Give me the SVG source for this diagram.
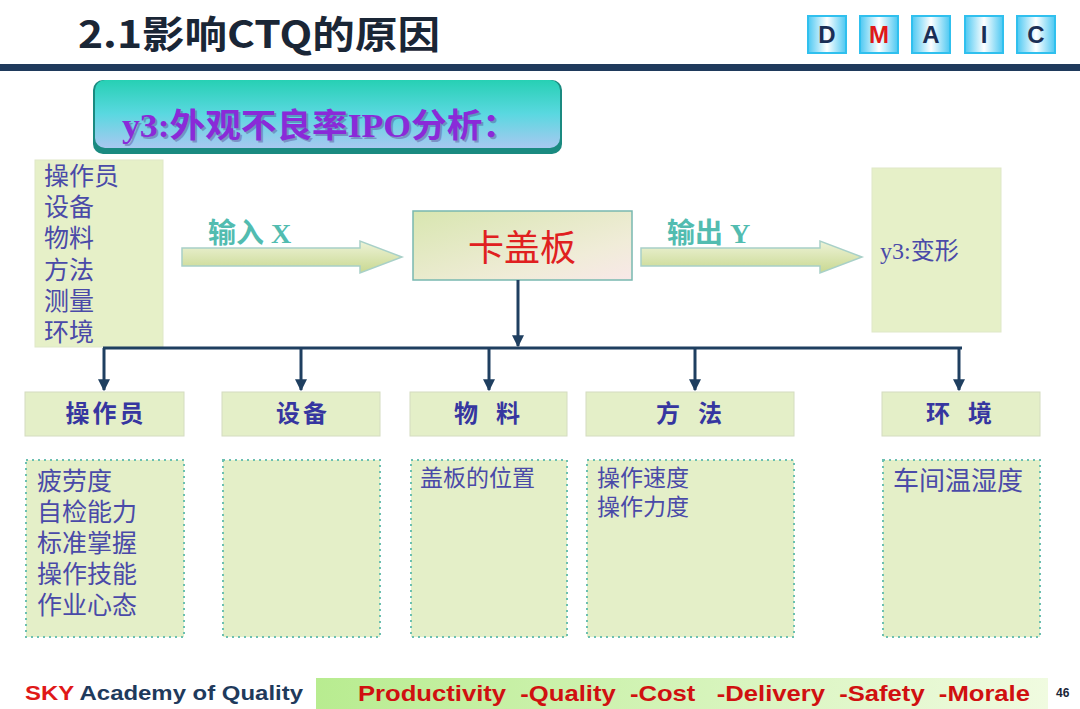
<svg xmlns="http://www.w3.org/2000/svg" width="1080" height="709" viewBox="0 0 1080 709">
<defs>
  <linearGradient id="dmaicG" x1="0" y1="0" x2="1" y2="0">
    <stop offset="0" stop-color="#4cc8f2"/>
    <stop offset="0.5" stop-color="#ffffff"/>
    <stop offset="1" stop-color="#4cc8f2"/>
  </linearGradient>
  <linearGradient id="bannerG" x1="0" y1="0" x2="0" y2="1">
    <stop offset="0" stop-color="#27d0b4"/>
    <stop offset="0.5" stop-color="#5ad8e0"/>
    <stop offset="1" stop-color="#a8c8f0"/>
  </linearGradient>
  <linearGradient id="arrowG" x1="0" y1="0" x2="0" y2="1">
    <stop offset="0" stop-color="#eef3d8"/>
    <stop offset="1" stop-color="#c8d890"/>
  </linearGradient>
  <linearGradient id="centerG" x1="0" y1="0" x2="1" y2="1">
    <stop offset="0" stop-color="#d8e6b0"/>
    <stop offset="0.7" stop-color="#f0ecd8"/>
    <stop offset="1" stop-color="#f8e8e8"/>
  </linearGradient>
  <linearGradient id="footG" x1="0" y1="0" x2="1" y2="0">
    <stop offset="0" stop-color="#b8ec90"/>
    <stop offset="1" stop-color="#f0fbe0"/>
  </linearGradient>
  <marker id="ah" viewBox="0 0 10 10" refX="9" refY="5" markerWidth="4" markerHeight="4" orient="auto" markerUnits="strokeWidth">
    <path d="M0,0 L10,5 L0,10 Z" fill="#1f3f60"/>
  </marker>
  <style>
    .cjk { font-family: "Liberation Serif", "Noto Sans CJK SC", serif; }
    .list { font-family: "Liberation Serif", "Noto Sans CJK SC", serif; font-size: 25px; fill: #4a4aa8; }
    .sm { font-size: 23px; }
    .hdr { fill: #e4efc8; stroke: #d4dcc0; stroke-width: 1; }
    .hdrt { font-family: "Liberation Serif", "Noto Sans CJK SC", serif; font-size: 24px; font-weight: bold; fill: #3636a0; text-anchor: middle; letter-spacing: 3px; }
    .cbox { fill: #e4efc8; stroke: #6cc0b0; stroke-width: 2; stroke-dasharray: 2 4; }
    .dm { fill: url(#dmaicG); stroke: #30c0ee; stroke-width: 2; }
    .dmt { font-family: "Liberation Sans", Arial, sans-serif; font-size: 24px; font-weight: bold; fill: #1a2e55; text-anchor: middle; }
    .conn { stroke: #1f3f60; stroke-width: 3; fill: none; }
    .arr { fill: url(#arrowG); stroke: #a8d0c8; stroke-width: 1.5; }
    .arrt { font-family: "Liberation Serif", "Noto Sans CJK SC", serif; font-size: 28px; font-weight: bold; fill: #52bcb0; }
  </style>
</defs>
<rect width="1080" height="709" fill="#ffffff"/>

<!-- header -->
<g id="title">
  <text x="78" y="48" font-family="'Noto Sans CJK SC', 'Liberation Sans', sans-serif" font-size="38" font-weight="bold" fill="#1a2636" textLength="362" lengthAdjust="spacingAndGlyphs">2.1影响CTQ的原因</text>
</g>
<rect x="0" y="64" width="1080" height="7" fill="#1f3a5c"/>
<g id="dmaic">
  <rect class="dm" x="808" y="16" width="38" height="37"/>
  <text class="dmt" x="827" y="43">D</text>
  <rect class="dm" x="860" y="16" width="38" height="37"/>
  <text class="dmt" x="879" y="43" style="fill:#e01818">M</text>
  <rect class="dm" x="912" y="16" width="38" height="37"/>
  <text class="dmt" x="931" y="43">A</text>
  <rect class="dm" x="965" y="16" width="38" height="37"/>
  <text class="dmt" x="984" y="43">I</text>
  <rect class="dm" x="1017" y="16" width="38" height="37"/>
  <text class="dmt" x="1036" y="43">C</text>
</g>

<!-- banner -->
<g id="banner">
  <rect x="93" y="80" width="469" height="74" rx="10" fill="#1a8a80"/>
  <rect x="95" y="80" width="465" height="68" rx="10" fill="url(#bannerG)"/>
  <text x="124" y="139" class="cjk" font-size="33" font-weight="bold" fill="#4a2a80" opacity="0.35" textLength="396" lengthAdjust="spacingAndGlyphs">y3:外观不良率IPO分析：</text>
  <text x="122" y="137" class="cjk" font-size="33" font-weight="bold" fill="#8a2ad8" textLength="396" lengthAdjust="spacingAndGlyphs">y3:外观不良率IPO分析：</text>
</g>

<!-- input list -->
<g id="inputs">
  <rect x="35" y="160" width="128" height="187" fill="#e6f0c8" stroke="#dfe8c8" stroke-width="1"/>
  <text class="list" x="44" y="185">操作员</text>
  <text class="list" x="44" y="216">设备</text>
  <text class="list" x="44" y="247">物料</text>
  <text class="list" x="44" y="279">方法</text>
  <text class="list" x="44" y="310">测量</text>
  <text class="list" x="44" y="341">环境</text>
</g>

<!-- input arrow -->
<g id="input-arrow">
  <path class="arr" d="M182,248 L360,248 L360,241 L402,257 L360,273 L360,266 L182,266 Z"/>
  <text class="arrt" x="208" y="243">输入 X</text>
</g>

<!-- center box -->
<g id="center">
  <rect x="413" y="211" width="219" height="69" fill="url(#centerG)" stroke="#78b8b0" stroke-width="1.5"/>
  <text x="522" y="261" class="cjk" font-size="36" fill="#e02020" text-anchor="middle">卡盖板</text>
</g>

<!-- output arrow -->
<g id="output-arrow">
  <path class="arr" d="M641,248 L820,248 L820,241 L862,257 L820,273 L820,266 L641,266 Z"/>
  <text class="arrt" x="667" y="243">输出 Y</text>
</g>

<!-- output box -->
<g id="output">
  <rect x="872" y="168" width="129" height="164" fill="#e6f0c8" stroke="#dfe8c8" stroke-width="1"/>
  <text x="880" y="259" class="cjk" font-size="24" fill="#4a4aa8">y3:变形</text>
</g>

<!-- connectors -->
<g id="connectors">
  <line class="conn" x1="518" y1="280" x2="518" y2="346" marker-end="url(#ah)"/>
  <line class="conn" x1="103" y1="348" x2="962" y2="348" stroke-width="4"/>
  <line class="conn" x1="104" y1="348" x2="104" y2="390" marker-end="url(#ah)"/>
  <line class="conn" x1="301" y1="348" x2="301" y2="390" marker-end="url(#ah)"/>
  <line class="conn" x1="489" y1="348" x2="489" y2="390" marker-end="url(#ah)"/>
  <line class="conn" x1="695" y1="348" x2="695" y2="390" marker-end="url(#ah)"/>
  <line class="conn" x1="959" y1="348" x2="959" y2="390" marker-end="url(#ah)"/>
</g>

<!-- categories -->
<g id="cat-operator">
  <rect class="hdr" x="25" y="392" width="159" height="44"/>
  <text class="hdrt" x="106" y="422">操作员</text>
  <rect class="cbox" x="26" y="460" width="158" height="177"/>
  <text class="list" x="37" y="490">疲劳度</text>
  <text class="list" x="37" y="521">自检能力</text>
  <text class="list" x="37" y="552">标准掌握</text>
  <text class="list" x="37" y="583">操作技能</text>
  <text class="list" x="37" y="614">作业心态</text>
</g>
<g id="cat-equipment">
  <rect class="hdr" x="222" y="392" width="158" height="44"/>
  <text class="hdrt" x="303" y="422">设备</text>
  <rect class="cbox" x="223" y="460" width="157" height="177"/>
</g>
<g id="cat-material">
  <rect class="hdr" x="410" y="392" width="157" height="44"/>
  <text class="hdrt" x="490" y="422" style="letter-spacing:6px">物 料</text>
  <rect class="cbox" x="411" y="460" width="156" height="177"/>
  <text class="list sm" x="420" y="486">盖板的位置</text>
</g>
<g id="cat-method">
  <rect class="hdr" x="586" y="392" width="208" height="44"/>
  <text class="hdrt" x="692" y="422" style="letter-spacing:6px">方 法</text>
  <rect class="cbox" x="587" y="460" width="207" height="177"/>
  <text class="list sm" x="597" y="486">操作速度</text>
  <text class="list sm" x="597" y="515">操作力度</text>
</g>
<g id="cat-environment">
  <rect class="hdr" x="882" y="392" width="158" height="44"/>
  <text class="hdrt" x="962" y="422" style="letter-spacing:6px">环 境</text>
  <rect class="cbox" x="883" y="460" width="157" height="177"/>
  <text class="list" x="893" y="490" style="font-size:26px">车间温湿度</text>
</g>

<!-- footer -->
<g id="footer">
  <text x="25" y="700" font-family="'Liberation Sans', Arial, sans-serif" font-size="21" font-weight="bold" textLength="278" lengthAdjust="spacingAndGlyphs"><tspan fill="#e01818">SKY</tspan><tspan fill="#1f3a5c">  Academy  of Quality</tspan></text>
  <rect x="316" y="678" width="732" height="31" fill="url(#footG)"/>
  <text x="358" y="701" font-family="'Liberation Sans', Arial, sans-serif" font-size="22" font-weight="bold" fill="#d01010" textLength="672" lengthAdjust="spacingAndGlyphs" xml:space="preserve">Productivity  -Quality  -Cost   -Delivery  -Safety  -Morale</text>
  <text x="1056" y="697" font-family="'Liberation Sans', Arial, sans-serif" font-size="12" font-weight="bold" fill="#1a2636">46</text>
</g>
</svg>
